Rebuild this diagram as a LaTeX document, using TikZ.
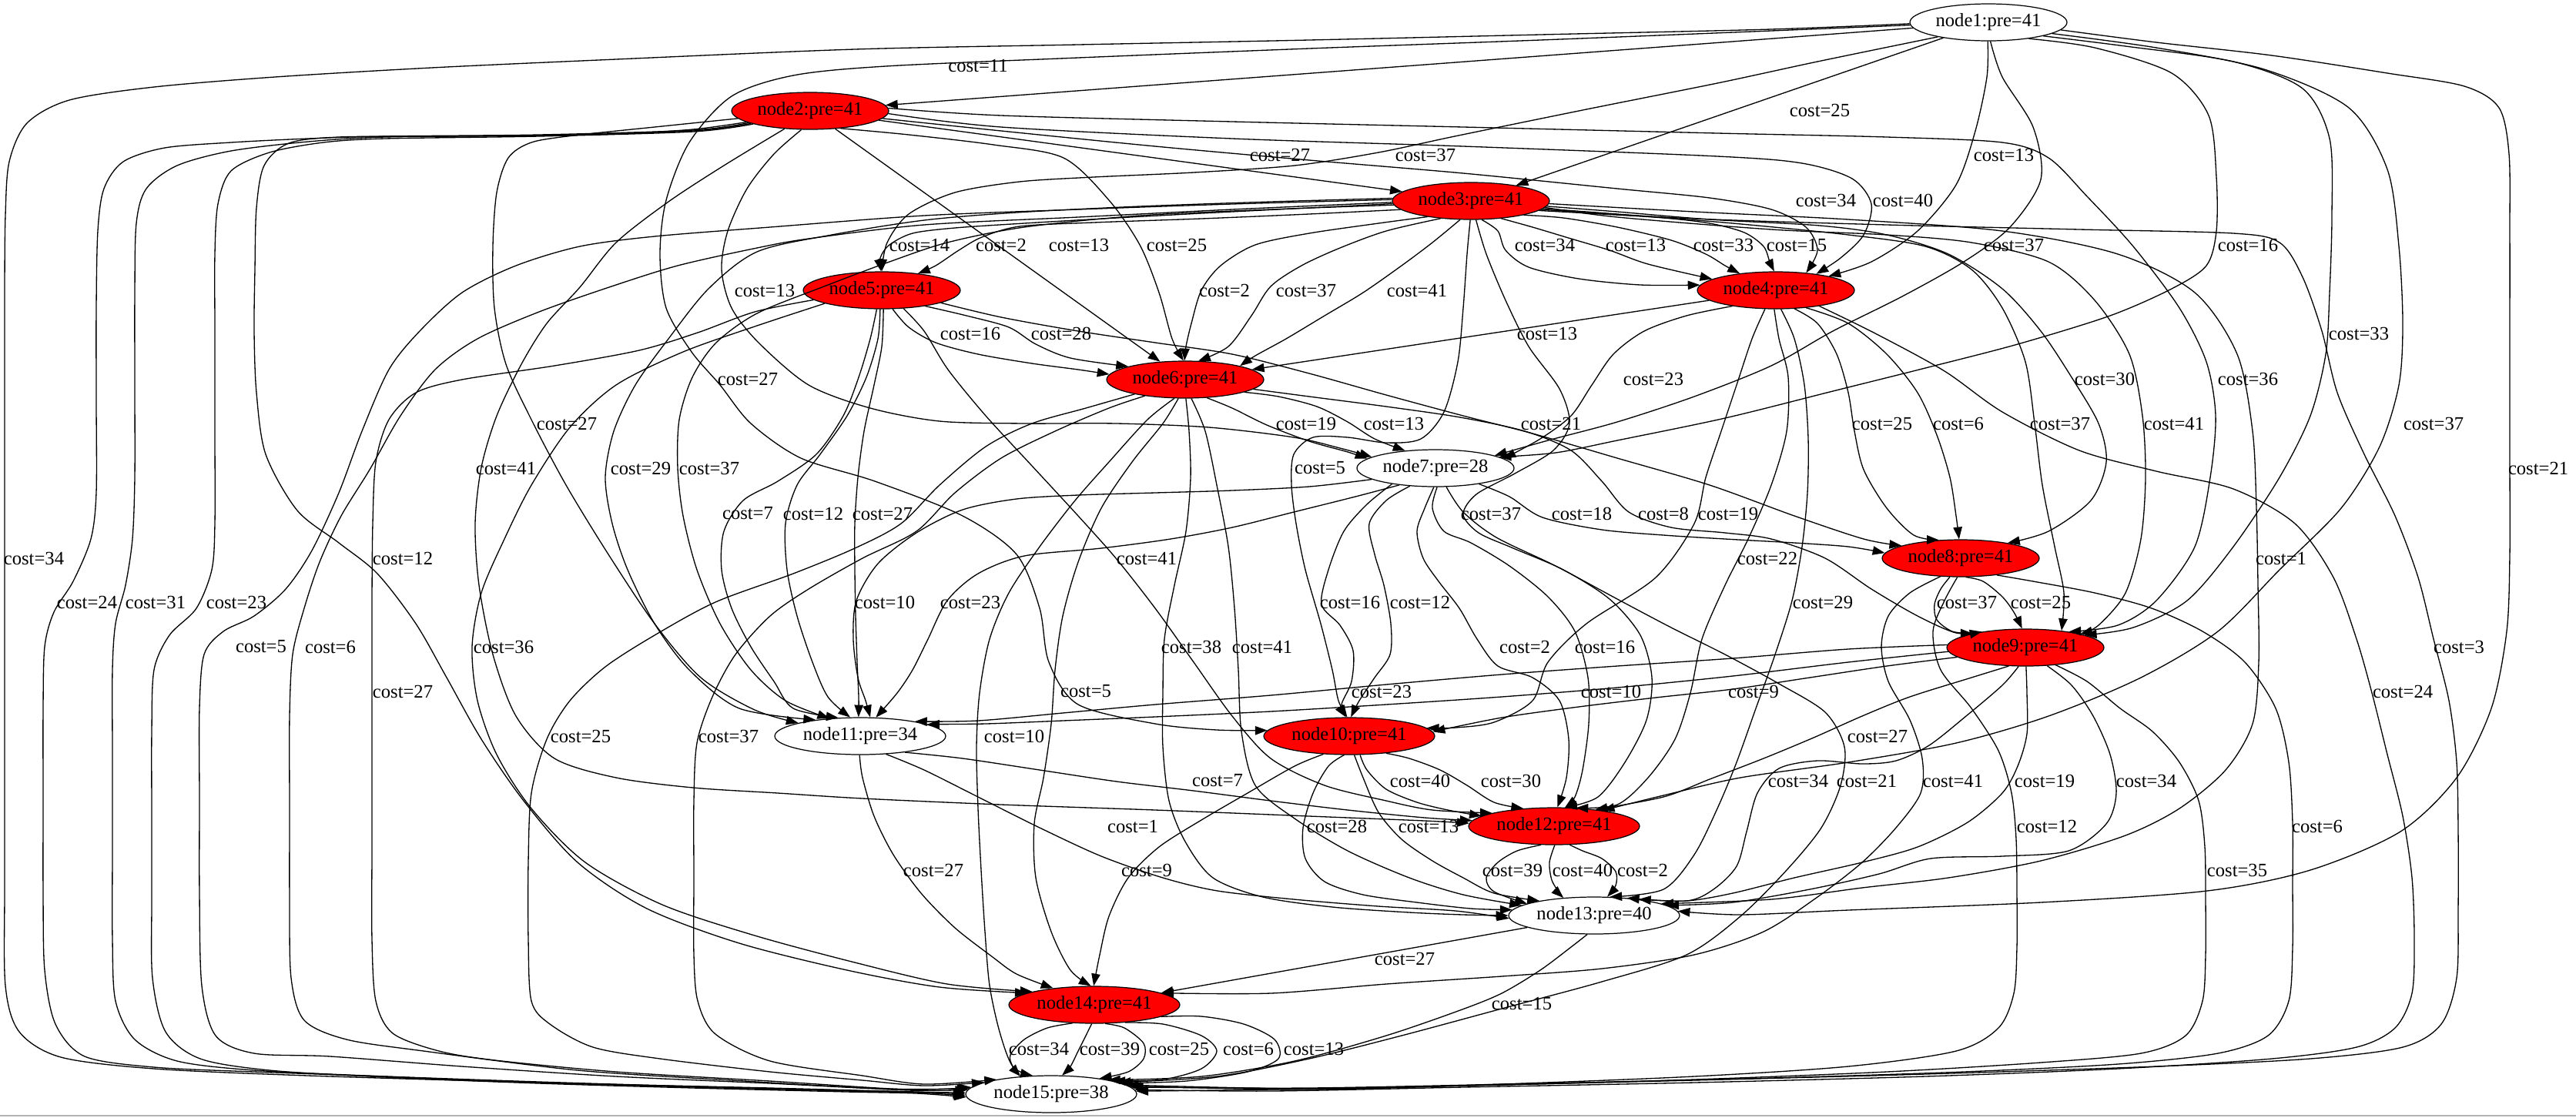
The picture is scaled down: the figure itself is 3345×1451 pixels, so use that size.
\documentclass[tikz,border=0pt]{standalone}
\usepackage{fontspec}
\setmainfont{Liberation Serif}
\usetikzlibrary{arrows.meta,shapes.geometric}
\begin{document}
\begin{tikzpicture}[x=0.02cm,y=-0.02cm,
  nd/.style={ellipse,draw=black,line width=0.7pt,inner sep=0pt,minimum width=4.08cm,minimum height=0.96cm,font=\fontsize{14}{16}\selectfont},
  rn/.style={nd,fill=red},
  wn/.style={nd,fill=white},
  wide/.style={minimum width=4.44cm},
  lb/.style={inner sep=0pt,font=\fontsize{14}{16}\selectfont},
  e/.style={draw=black,line width=0.75pt,-{Triangle[length=9pt,width=6.5pt]}}]
\newcommand\ed[1]{\draw[e] plot[smooth,tension=0.5] coordinates {#1};}
\useasboundingbox (0,0) rectangle (3345,1451);
\draw[black!30,line width=1pt] (0,1449) -- (3345,1449);

% nodes
\node[wn] (n1) at (2582,29) {node1:pre=41};
\node[rn] (n2) at (1052,144) {node2:pre=41};
\node[rn] (n3) at (1910,261) {node3:pre=41};
\node[rn] (n4) at (2306,377) {node4:pre=41};
\node[rn] (n5) at (1145,377) {node5:pre=41};
\node[rn] (n6) at (1539,493) {node6:pre=41};
\node[wn] (n7) at (1864,608) {node7:pre=28};
\node[rn] (n8) at (2546,725) {node8:pre=41};
\node[rn] (n9) at (2630,841) {node9:pre=41};
\node[rn,wide] (n10) at (1752,956) {node10:pre=41};
\node[wn,wide] (n11) at (1117,956) {node11:pre=34};
\node[rn,wide] (n12) at (2018,1073) {node12:pre=41};
\node[wn,wide] (n13) at (2070,1189) {node13:pre=40};
\node[rn,wide] (n14) at (1421,1305) {node14:pre=41};
\node[wn,wide] (n15) at (1365,1421) {node15:pre=38};

% edges out of node1
\draw[e] (n1) -- (n2);
\draw[e] (n1) -- (n3);
\ed{(n1.268) (2580,100) (2565,170) (2540,240) (2490,300) (2430,340) (n4.15)}
\ed{(n1.196) (2360,80) (2230,108) (2060,142) (1889,177) (1790,198) (1681,215) (1550,224) (1420,230) (1324,236) (1240,250) (1180,278) (1152,315) (n5.90)}
\ed{(n1.276) (2600,100) (2640,165) (2650,233) (2610,295) (2550,340) (2470,385) (2380,430) (2300,475) (2200,515) (2100,548) (2010,572) (n7.12)}
\ed{(n1.338) (2720,62) (2820,95) (2868,150) (2878,230) (2878,300) (2865,345) (2820,375) (2740,410) (2620,447) (2500,478) (2380,508) (2240,543) (2100,572) (2020,588) (n7.10)}
\ed{(n1.346) (2760,60) (2900,80) (2990,115) (3025,180) (3028,280) (3025,380) (3020,460) (3000,540) (2960,620) (2900,710) (2840,780) (2770,815) (n9.12)}
\ed{(n1.182) (2300,40) (2000,52) (1700,63) (1400,75) (1150,86) (1030,98) (950,125) (895,185) (865,260) (857,330) (865,400) (898,457) (935,500) (975,550) (1040,595) (1136,625) (1250,670) (1320,720) (1350,790) (1362,860) (1400,915) (1500,940) (1580,948) (n10.176)}
\ed{(n1.350) (2800,62) (2940,90) (3050,140) (3100,220) (3115,320) (3120,420) (3115,500) (3090,580) (3040,660) (2960,740) (2880,820) (2780,880) (2660,930) (2540,965) (2400,990) (2260,1010) (2160,1033) (n12.18)}
\ed{(n1.354) (2800,55) (2950,72) (3100,95) (3200,112) (3245,140) (3258,200) (3259,300) (3259,450) (3259,600) (3259,720) (3255,820) (3235,920) (3190,1010) (3117,1080) (3000,1130) (2866,1157) (2650,1172) (2400,1182) (2260,1188) (n13.3)}
\ed{(n1.181) (2300,38) (2000,45) (1700,52) (1400,58) (1110,64) (800,77) (560,88) (357,100) (200,113) (90,130) (35,160) (12,210) (7,280) (6,380) (6,550) (6,750) (6,950) (6,1150) (7,1280) (25,1340) (79,1373) (200,1388) (400,1397) (700,1406) (1000,1413) (1180,1418) (n15.179)}

% edges out of node2
\draw[e] (n2) -- (n3);
\ed{(n2.354) (1300,170) (1500,190) (1700,208) (1900,225) (2100,245) (2220,257) (2300,272) (2345,295) (2360,325) (n4.30)}
\ed{(n2.358) (1300,165) (1600,180) (1900,190) (2230,203) (2340,212) (2405,232) (2430,265) (2420,305) (2390,335) (n4.22)}
\draw[e] (n2) -- (n6);
\ed{(n2.330) (1180,175) (1290,188) (1381,205) (1440,260) (1480,318) (1505,380) (1522,440) (n6.95)}
\ed{(n2.245) (1005,200) (970,245) (945,300) (937,350) (950,400) (985,445) (1050,500) (1130,530) (1220,547) (1330,550) (1450,550) (1570,555) (1680,568) (1740,582) (n7.170)}
\ed{(n2.2) (1300,150) (1600,158) (1900,165) (2230,173) (2450,178) (2600,185) (2660,205) (2710,255) (2770,320) (2830,400) (2865,470) (2877,540) (2870,620) (2850,710) (2800,780) (2750,812) (n9.20)}
\ed{(n2.186) (850,165) (745,176) (690,185) (660,205) (645,250) (640,320) (642,400) (657,473) (690,545) (735,630) (790,720) (850,810) (910,880) (980,922) (n11.168)}
\ed{(n2.215) (940,215) (868,262) (800,315) (753,373) (710,420) (677,473) (645,540) (625,607) (617,680) (622,760) (640,850) (670,930) (720,985) (800,1010) (900,1023) (1010,1030) (1120,1037) (1300,1045) (1500,1052) (1700,1060) (1850,1066) (n12.178)}
\ed{(n2.190) (900,168) (800,174) (700,176) (570,177) (440,178) (375,186) (343,215) (333,270) (331,350) (330,430) (333,510) (345,590) (386,663) (440,705) (490,745) (540,810) (580,880) (625,960) (680,1040) (750,1120) (840,1180) (960,1225) (1100,1260) (1220,1282) (n14.170)}
\ed{(n2.191) (900,169) (700,175) (500,177) (400,180) (300,185) (214,192) (160,210) (135,245) (127,300) (125,400) (125,520) (125,640) (118,700) (95,755) (70,795) (58,840) (56,920) (56,1040) (56,1160) (58,1260) (72,1330) (110,1372) (200,1386) (330,1392) (500,1398) (700,1405) (900,1411) (1100,1416) (1190,1418) (n15.180)}
\ed{(n2.192) (900,170) (700,176) (500,178) (400,184) (300,196) (230,215) (190,245) (177,290) (175,380) (175,500) (175,620) (172,700) (163,760) (150,810) (146,870) (146,980) (146,1100) (146,1220) (150,1300) (175,1350) (230,1378) (330,1390) (500,1398) (700,1406) (900,1412) (1100,1417) (1190,1419) (n15.181)}
\ed{(n2.193) (900,171) (700,177) (500,180) (420,185) (350,198) (300,222) (283,265) (279,330) (279,430) (279,560) (279,680) (275,740) (255,790) (220,825) (200,870) (197,950) (197,1060) (197,1170) (198,1270) (215,1340) (260,1375) (350,1390) (500,1399) (700,1407) (900,1413) (1100,1418) (1190,1420) (n15.182)}

% edges out of node3
\ed{(n3.300) (1945,300) (1955,325) (1985,347) (2050,362) (2130,370) (n4.176)}
\ed{(n3.330) (1990,295) (2040,310) (2090,325) (2140,343) (n4.170)}
\ed{(n3.345) (2030,283) (2100,295) (2170,312) (2215,330) (2240,345) (n4.155)}
\ed{(n3.352) (2080,278) (2160,283) (2220,290) (2265,302) (2290,320) (2298,340) (n4.95)}
\ed{(n3.182) (1700,270) (1580,276) (1450,283) (1330,290) (1240,296) (1185,303) (1155,318) (1143,335) (n5.92)}
\ed{(n3.187) (1700,278) (1560,284) (1420,289) (1324,294) (1275,308) (1245,325) (1215,345) (n5.25)}
\ed{(n3.200) (1790,290) (1700,303) (1630,318) (1585,345) (1560,377) (1547,420) (1540,450) (n6.92)}
\ed{(n3.210) (1800,300) (1740,322) (1690,345) (1650,372) (1625,410) (1595,450) (n6.55)}
\ed{(n3.240) (1860,315) (1820,345) (1770,380) (1720,410) (1670,440) (1630,462) (n6.14)}
\ed{(n3.356) (2100,275) (2220,285) (2363,293) (2450,305) (2530,330) (2600,375) (2650,430) (2690,490) (2725,550) (2735,600) (2715,650) (2660,690) (n8.18)}
\ed{(n3.354) (2100,278) (2250,290) (2400,305) (2500,320) (2560,350) (2600,400) (2630,470) (2642,550) (2652,630) (2668,710) (2680,770) (n9.25)}
\ed{(n3.355) (2100,282) (2300,298) (2450,305) (2560,315) (2660,340) (2720,390) (2765,460) (2782,540) (2786,620) (2780,700) (2760,770) (2725,812) (n9.14)}
\ed{(n3.268) (1905,330) (1900,400) (1893,470) (1875,535) (1845,570) (1800,575) (1750,568) (1705,568) (1680,590) (1677,630) (1683,680) (1695,740) (1715,810) (1730,870) (1738,910) (n10.96)}
\ed{(n3.178) (1650,262) (1480,268) (1320,276) (1200,286) (1080,305) (983,327) (920,375) (868,440) (825,500) (797,560) (786,620) (795,680) (815,740) (850,810) (895,870) (960,920) (n11.160)}
\ed{(n3.183) (1650,272) (1480,280) (1330,295) (1230,315) (1155,340) (1070,372) (983,407) (930,445) (899,490) (882,545) (880,608) (887,670) (905,740) (935,810) (975,870) (1020,910) (n11.150)}
\ed{(n3.285) (1930,330) (1955,390) (1985,450) (2025,505) (2038,550) (2017,585) (1967,615) (1917,642) (1900,668) (1920,692) (1965,712) (2030,740) (2090,778) (2130,825) (2145,880) (2138,935) (2110,990) (2075,1035) (n12.60)}
\ed{(n3.358) (2200,275) (2400,285) (2600,300) (2750,330) (2850,380) (2905,460) (2925,560) (2930,660) (2932,760) (2933,860) (2925,940) (2890,1000) (2830,1050) (2760,1085) (2650,1118) (2530,1140) (2418,1153) (2300,1168) (n13.10)}
\ed{(n3.179) (1600,265) (1400,272) (1200,280) (1000,295) (850,307) (753,320) (670,345) (600,380) (545,430) (505,480) (470,560) (440,640) (405,715) (371,765) (330,800) (290,820) (265,850) (259,920) (259,1040) (259,1160) (262,1280) (280,1345) (330,1368) (429,1372) (600,1385) (800,1398) (1000,1407) (1180,1416) (n15.177)}
\ed{(n3.181) (1600,272) (1400,282) (1200,292) (1050,310) (983,322) (880,345) (791,373) (700,405) (620,440) (565,480) (520,540) (480,610) (443,670) (415,730) (395,790) (380,850) (376,930) (376,1050) (376,1170) (378,1270) (395,1325) (450,1350) (550,1365) (750,1390) (950,1403) (1150,1414) (n15.176)}
\ed{(n3.353) (2200,284) (2450,292) (2700,298) (2900,303) (2960,315) (2990,360) (3015,430) (3035,510) (3070,590) (3110,670) (3140,750) (3160,830) (3180,910) (3190,990) (3192,1080) (3192,1180) (3190,1270) (3170,1330) (3120,1360) (3000,1375) (2800,1385) (2500,1395) (2200,1403) (1900,1410) (1650,1415) (n15.2)}

% edges out of node4
\draw[e] (n4) -- (n6);
\ed{(n4.200) (2190,410) (2135,430) (2095,460) (2067,500) (2040,540) (2000,570) (n7.8)}
\ed{(n4.315) (2360,420) (2385,460) (2400,510) (2408,560) (2420,610) (2450,660) (2485,695) (n8.140)}
\ed{(n4.330) (2400,420) (2450,460) (2490,510) (2515,565) (2532,620) (2540,670) (n8.95)}
\ed{(n4.240) (2275,440) (2255,500) (2235,560) (2215,620) (2200,680) (2150,750) (2060,810) (2010,860) (1990,910) (1940,938) (1890,945) (n10.6)}
\ed{(n4.265) (2310,440) (2322,490) (2320,560) (2300,630) (2270,700) (2240,760) (2210,830) (2195,900) (2175,960) (2140,1010) (2100,1045) (n12.40)}
\ed{(n4.285) (2330,440) (2343,500) (2348,570) (2347,640) (2340,710) (2327,780) (2305,850) (2280,920) (2255,990) (2230,1050) (2200,1110) (2160,1155) (n13.50)}
\ed{(n4.340) (2435,433) (2525,482) (2600,535) (2700,585) (2800,612) (2900,635) (2980,680) (3030,750) (3060,830) (3080,900) (3100,980) (3120,1060) (3132,1140) (3135,1220) (3132,1290) (3110,1335) (3060,1360) (2950,1375) (2750,1388) (2500,1398) (2200,1406) (1900,1412) (1650,1417) (n15.3)}

% edges out of node5
\ed{(n5.300) (1180,425) (1215,445) (1270,460) (1340,472) (1400,480) (n6.176)}
\ed{(n5.340) (1255,410) (1310,425) (1345,447) (1390,465) (n6.167)}
\ed{(n5.348) (1300,412) (1400,430) (1500,445) (1600,460) (1700,485) (1800,513) (1900,540) (1990,563) (2100,595) (2220,630) (2330,670) (2420,700) (n8.168)}
\ed{(n5.255) (1130,440) (1115,490) (1095,540) (1060,590) (1010,625) (965,650) (940,690) (937,740) (950,790) (975,840) (1005,885) (1030,920) (n11.140)}
\ed{(n5.265) (1140,440) (1125,490) (1100,540) (1065,590) (1035,630) (1020,680) (1022,740) (1035,800) (1055,860) (1075,905) (n11.118)}
\ed{(n5.275) (1145,450) (1135,500) (1122,560) (1114,620) (1110,680) (1110,740) (1111,800) (1113,860) (1115,905) (n11.95)}
\ed{(n5.320) (1200,430) (1231,480) (1280,540) (1340,605) (1400,670) (1449,725) (1500,790) (1550,860) (1600,930) (1650,985) (1720,1020) (1800,1040) (1860,1052) (n12.168)}
\ed{(n5.193) (983,423) (887,457) (800,500) (740,555) (690,630) (655,700) (625,770) (613,840) (620,910) (645,980) (690,1050) (760,1120) (860,1175) (980,1215) (1110,1250) (1230,1278) (n14.168)}
\ed{(n5.188) (980,405) (906,432) (830,455) (720,475) (600,493) (540,510) (505,545) (488,600) (484,680) (483,780) (483,880) (483,980) (483,1100) (483,1220) (488,1300) (510,1342) (570,1365) (643,1377) (800,1392) (1000,1404) (1180,1415) (n15.175)}

% edges out of node6
\ed{(n6.320) (1600,530) (1645,552) (1700,573) (1750,587) (n7.172)}
\ed{(n6.348) (1660,515) (1710,528) (1750,548) (1785,570) (n7.150)}
\ed{(n6.352) (1700,515) (1800,528) (1896,542) (1980,560) (2040,585) (2080,625) (2115,665) (2170,685) (2240,692) (2300,700) (2370,725) (2430,765) (2490,800) (2540,822) (n9.160)}
\ed{(n6.272) (1544,560) (1546,620) (1540,690) (1525,760) (1512,830) (1510,900) (1510,970) (1518,1040) (1539,1093) (1575,1140) (1640,1165) (1730,1178) (1830,1185) (1900,1188) (n13.180)}
\ed{(n6.288) (1565,560) (1580,630) (1595,710) (1603,790) (1608,870) (1612,950) (1630,1020) (1681,1063) (1750,1105) (1830,1140) (1900,1162) (n13.172)}
\ed{(n6.250) (1510,550) (1470,600) (1430,660) (1400,730) (1380,800) (1370,870) (1365,940) (1355,1010) (1343,1070) (1345,1140) (1365,1210) (1390,1260) (n14.100)}
\ed{(n6.196) (1410,530) (1340,550) (1280,580) (1220,630) (1170,680) (1110,712) (1030,745) (929,782) (850,825) (786,866) (740,910) (710,960) (690,1030) (686,1120) (686,1220) (690,1300) (714,1330) (770,1360) (857,1375) (1000,1392) (1120,1403) (1200,1410) (n15.170)}
\ed{(n6.202) (1440,530) (1370,560) (1300,595) (1240,640) (1190,690) (1120,725) (1050,765) (1000,800) (955,850) (925,905) (905,965) (901,1040) (901,1140) (901,1240) (906,1300) (929,1343) (1000,1378) (1120,1397) (1200,1408) (n15.165)}
\ed{(n6.240) (1490,545) (1440,600) (1396,650) (1350,710) (1310,770) (1285,830) (1272,900) (1268,970) (1270,1050) (1274,1130) (1279,1210) (1285,1280) (1298,1340) (1315,1385) (n15.135)}

% edges out of node7
\ed{(n7.340) (1960,645) (2003,672) (2080,688) (2160,695) (2240,700) (2330,705) (2400,710) (n8.176)}
\ed{(n7.200) (1775,655) (1745,690) (1725,740) (1716,785) (1740,812) (1757,845) (1755,885) (1742,915) (n10.100)}
\ed{(n7.215) (1800,650) (1778,680) (1785,720) (1797,760) (1806,810) (1805,850) (1785,880) (1765,910) (n10.85)}
\ed{(n7.190) (1700,632) (1600,637) (1500,640) (1400,643) (1320,648) (1250,662) (1190,692) (1140,732) (1112,780) (1108,830) (1114,880) (1124,910) (n11.62)}
\ed{(n7.205) (1760,645) (1680,665) (1600,685) (1520,700) (1430,712) (1330,722) (1270,745) (1230,780) (1205,830) (1185,870) (1165,900) (n11.50)}
\ed{(n7.265) (1850,660) (1840,690) (1848,725) (1868,755) (1895,790) (1918,830) (1945,865) (1990,880) (2025,910) (2037,960) (2034,1010) (n12.80)}
\ed{(n7.275) (1860,660) (1875,690) (1910,705) (1960,735) (2010,775) (2045,820) (2062,880) (2063,940) (2055,1000) (2045,1035) (n12.60)}
\ed{(n7.300) (1900,665) (1943,698) (2020,735) (2100,778) (2170,815) (2240,850) (2310,888) (2370,925) (2395,970) (2390,1020) (2365,1075) (2320,1130) (2260,1190) (2190,1240) (2080,1275) (1950,1310) (1820,1345) (1700,1375) (1580,1398) (n15.10)}

% edges out of node8
\ed{(n8.240) (2520,765) (2512,785) (2515,805) (2535,820) (n9.165)}
\ed{(n8.285) (2575,755) (2600,775) (2615,795) (n9.100)}
\ed{(n8.222) (2480,770) (2452,800) (2443,840) (2452,885) (2480,935) (2496,985) (2494,1030) (2462,1075) (2418,1120) (2360,1165) (2290,1210) (2200,1240) (2080,1258) (1950,1268) (1800,1278) (1650,1290) (n14.10)}
\ed{(n8.260) (2525,780) (2510,820) (2520,870) (2560,920) (2595,975) (2612,1030) (2618,1090) (2619,1160) (2619,1230) (2615,1290) (2595,1335) (2540,1365) (2400,1385) (2200,1398) (1950,1408) (1700,1415) (n15.6)}
\ed{(n8.335) (2640,755) (2720,770) (2794,790) (2860,820) (2915,860) (2955,920) (2972,990) (2977,1070) (2977,1150) (2977,1230) (2972,1300) (2945,1345) (2880,1368) (2750,1382) (2550,1392) (2300,1400) (2000,1407) (1700,1413) (n15.5)}

% edges out of node9
\ed{(n9.188) (2450,865) (2350,880) (2250,895) (2150,906) (2050,918) (1950,932) (n10.3)}
\ed{(n9.178) (2400,843) (2250,855) (2100,865) (1950,876) (1800,889) (1650,903) (1500,915) (1380,926) (1270,936) (n11.15)}
\ed{(n9.183) (2400,860) (2250,878) (2100,893) (1950,905) (1800,915) (1650,924) (1500,931) (1380,936) (1280,940) (n11.10)}
\ed{(n9.228) (2560,880) (2480,905) (2418,930) (2355,958) (2290,985) (2220,1012) (2160,1035) (n12.22)}
\ed{(n9.250) (2600,890) (2553,930) (2505,968) (2462,988) (2418,992) (2360,988) (2310,998) (2282,1030) (2268,1080) (2255,1125) (2225,1155) (2190,1170) (n13.28)}
\ed{(n9.272) (2632,900) (2632,953) (2620,995) (2600,1030) (2555,1068) (2490,1100) (2418,1120) (2330,1140) (2250,1160) (2190,1170) (n13.20)}
\ed{(n9.320) (2690,890) (2718,930) (2740,980) (2748,1030) (2735,1070) (2686,1105) (2600,1112) (2507,1115) (2440,1135) (2350,1155) (2250,1172) (n13.8)}
\ed{(n9.330) (2710,885) (2753,920) (2795,950) (2830,990) (2855,1040) (2863,1100) (2864,1170) (2864,1240) (2860,1300) (2838,1345) (2780,1368) (2650,1380) (2450,1392) (2200,1402) (1950,1409) (1700,1414) (n15.7)}

% edges out of node10
\ed{(n10.300) (1775,1000) (1800,1025) (1840,1042) (1880,1052) (n12.172)}
\ed{(n10.335) (1830,985) (1870,1000) (1905,1020) (1940,1042) (n12.150)}
\ed{(n10.255) (1725,995) (1705,1030) (1692,1075) (1695,1115) (1720,1145) (1770,1162) (1840,1172) (1910,1180) (n13.176)}
\ed{(n10.285) (1770,1010) (1790,1055) (1820,1090) (1860,1118) (1900,1140) (1940,1160) (n13.165)}
\ed{(n10.215) (1681,995) (1620,1030) (1560,1065) (1505,1100) (1465,1140) (1440,1190) (1428,1240) (n14.92)}

% edges out of node11
\ed{(n11.340) (1250,985) (1350,1000) (1450,1015) (1550,1027) (1650,1040) (1750,1052) (1850,1062) (n12.176)}
\ed{(n11.325) (1200,1000) (1270,1035) (1350,1075) (1430,1112) (1510,1140) (1581,1157) (1680,1168) (1790,1177) (1890,1183) (n13.182)}
\ed{(n11.268) (1120,1010) (1135,1060) (1160,1110) (1196,1160) (1240,1205) (1289,1243) (1320,1265) (n14.158)}

% edges out of node12
\ed{(n12.235) (1970,1105) (1945,1120) (1930,1140) (1940,1158) (n13.170)}
\ed{(n12.272) (2012,1120) (2015,1143) (2025,1160) (n13.150)}
\ed{(n12.310) (2055,1105) (2080,1115) (2098,1132) (2098,1150) (n13.55)}

% edges out of node13
\draw[e] (n13) -- (n14);
\ed{(n13.250) (2040,1230) (2000,1260) (1950,1290) (1896,1312) (1800,1345) (1681,1378) (1560,1398) (n15.14)}

% edges out of node14
\ed{(n14.220) (1360,1335) (1330,1350) (1312,1370) (1315,1385) (n15.150)}
\ed{(n14.262) (1410,1345) (1400,1365) (1390,1385) (n15.60)}
\ed{(n14.300) (1460,1335) (1485,1355) (1485,1375) (1465,1392) (n15.18)}
\ed{(n14.330) (1510,1330) (1560,1345) (1580,1365) (1560,1388) (1510,1402) (n15.12)}
\ed{(n14.350) (1560,1320) (1615,1330) (1655,1350) (1660,1375) (1620,1392) (1540,1404) (n15.9)}

% edge labels
\node[lb] (l1) at (1270,85) {cost=11};
\node[lb] (l2) at (2363,143) {cost=25};
\node[lb] (l3) at (1662,201) {cost=27};
\node[lb] (l4) at (1851,201) {cost=37};
\node[lb] (l5) at (2602,201) {cost=13};
\node[lb] (l6) at (2371,260) {cost=34};
\node[lb] (l7) at (2471,260) {cost=40};
\node[lb] (l8) at (1194,318) {cost=14};
\node[lb] (l9) at (1300,318) {cost=2};
\node[lb] (l10) at (1401,318) {cost=13};
\node[lb] (l11) at (1528,318) {cost=25};
\node[lb] (l12) at (2006,318) {cost=34};
\node[lb] (l13) at (2124,318) {cost=13};
\node[lb] (l14) at (2238,318) {cost=33};
\node[lb] (l15) at (2333,318) {cost=15};
\node[lb] (l16) at (2615,318) {cost=37};
\node[lb] (l17) at (2919,318) {cost=16};
\node[lb] (l18) at (993,377) {cost=13};
\node[lb] (l19) at (1590,377) {cost=2};
\node[lb] (l20) at (1696,377) {cost=37};
\node[lb] (l21) at (1840,377) {cost=41};
\node[lb] (l22) at (1260,433) {cost=16};
\node[lb] (l23) at (1378,433) {cost=28};
\node[lb] (l24) at (2009,433) {cost=13};
\node[lb] (l25) at (3063,433) {cost=33};
\node[lb] (l26) at (971,492) {cost=27};
\node[lb] (l27) at (2147,492) {cost=23};
\node[lb] (l28) at (2733,492) {cost=30};
\node[lb] (l29) at (2919,492) {cost=36};
\node[lb] (l30) at (736,550) {cost=27};
\node[lb] (l31) at (1696,550) {cost=19};
\node[lb] (l32) at (1810,550) {cost=13};
\node[lb] (l33) at (2014,550) {cost=21};
\node[lb] (l34) at (2444,550) {cost=25};
\node[lb] (l35) at (2543,550) {cost=6};
\node[lb] (l36) at (2675,550) {cost=37};
\node[lb] (l37) at (2823,550) {cost=41};
\node[lb] (l38) at (3160,550) {cost=37};
\node[lb] (l39) at (657,608) {cost=41};
\node[lb] (l40) at (832,608) {cost=29};
\node[lb] (l41) at (921,608) {cost=37};
\node[lb] (l42) at (1714,608) {cost=5};
\node[lb] (l43) at (3296,608) {cost=21};
\node[lb] (l44) at (971,667) {cost=7};
\node[lb] (l45) at (1056,667) {cost=12};
\node[lb] (l46) at (1146,667) {cost=27};
\node[lb] (l47) at (1936,667) {cost=37};
\node[lb] (l48) at (2054,667) {cost=18};
\node[lb] (l49) at (2160,667) {cost=8};
\node[lb] (l50) at (2244,667) {cost=19};
\node[lb] (l51) at (44,725) {cost=34};
\node[lb] (l52) at (523,725) {cost=12};
\node[lb] (l53) at (1489,725) {cost=41};
\node[lb] (l54) at (2295,725) {cost=22};
\node[lb] (l55) at (2962,725) {cost=1};
\node[lb] (l56) at (113,782) {cost=24};
\node[lb] (l57) at (202,782) {cost=31};
\node[lb] (l58) at (307,782) {cost=23};
\node[lb] (l59) at (1149,782) {cost=10};
\node[lb] (l60) at (1260,782) {cost=23};
\node[lb] (l61) at (1753,782) {cost=16};
\node[lb] (l62) at (1844,782) {cost=12};
\node[lb] (l63) at (2367,782) {cost=29};
\node[lb] (l64) at (2554,782) {cost=37};
\node[lb] (l65) at (2650,782) {cost=25};
\node[lb] (l66) at (339,840) {cost=5};
\node[lb] (l67) at (429,840) {cost=6};
\node[lb] (l68) at (654,840) {cost=36};
\node[lb] (l69) at (1547,840) {cost=38};
\node[lb] (l70) at (1639,840) {cost=41};
\node[lb] (l71) at (1980,840) {cost=2};
\node[lb] (l72) at (2084,840) {cost=16};
\node[lb] (l73) at (3193,840) {cost=3};
\node[lb] (l74) at (523,898) {cost=27};
\node[lb] (l75) at (1410,898) {cost=5};
\node[lb] (l76) at (1794,898) {cost=23};
\node[lb] (l77) at (2092,898) {cost=10};
\node[lb] (l78) at (2277,898) {cost=9};
\node[lb] (l79) at (3120,898) {cost=24};
\node[lb] (l80) at (754,956) {cost=25};
\node[lb] (l81) at (946,956) {cost=37};
\node[lb] (l82) at (1317,956) {cost=10};
\node[lb] (l83) at (2438,956) {cost=27};
\node[lb] (l84) at (1581,1014) {cost=7};
\node[lb] (l85) at (1844,1014) {cost=40};
\node[lb] (l86) at (1962,1014) {cost=30};
\node[lb] (l87) at (2335,1014) {cost=34};
\node[lb] (l88) at (2424,1014) {cost=21};
\node[lb] (l89) at (2536,1014) {cost=41};
\node[lb] (l90) at (2655,1014) {cost=19};
\node[lb] (l91) at (2787,1014) {cost=34};
\node[lb] (l92) at (1471,1073) {cost=1};
\node[lb] (l93) at (1736,1073) {cost=28};
\node[lb] (l94) at (1855,1073) {cost=13};
\node[lb] (l95) at (2658,1073) {cost=12};
\node[lb] (l96) at (3009,1073) {cost=6};
\node[lb] (l97) at (1212,1130) {cost=27};
\node[lb] (l98) at (1489,1130) {cost=9};
\node[lb] (l99) at (1964,1130) {cost=39};
\node[lb] (l100) at (2055,1130) {cost=40};
\node[lb] (l101) at (2133,1130) {cost=2};
\node[lb] (l102) at (2905,1130) {cost=35};
\node[lb] (l103) at (1824,1245) {cost=27};
\node[lb] (l104) at (1976,1303) {cost=15};
\node[lb] (l105) at (1349,1362) {cost=34};
\node[lb] (l106) at (1441,1362) {cost=39};
\node[lb] (l107) at (1531,1362) {cost=25};
\node[lb] (l108) at (1621,1362) {cost=6};
\node[lb] (l109) at (1706,1362) {cost=13};
\end{tikzpicture}
\end{document}
